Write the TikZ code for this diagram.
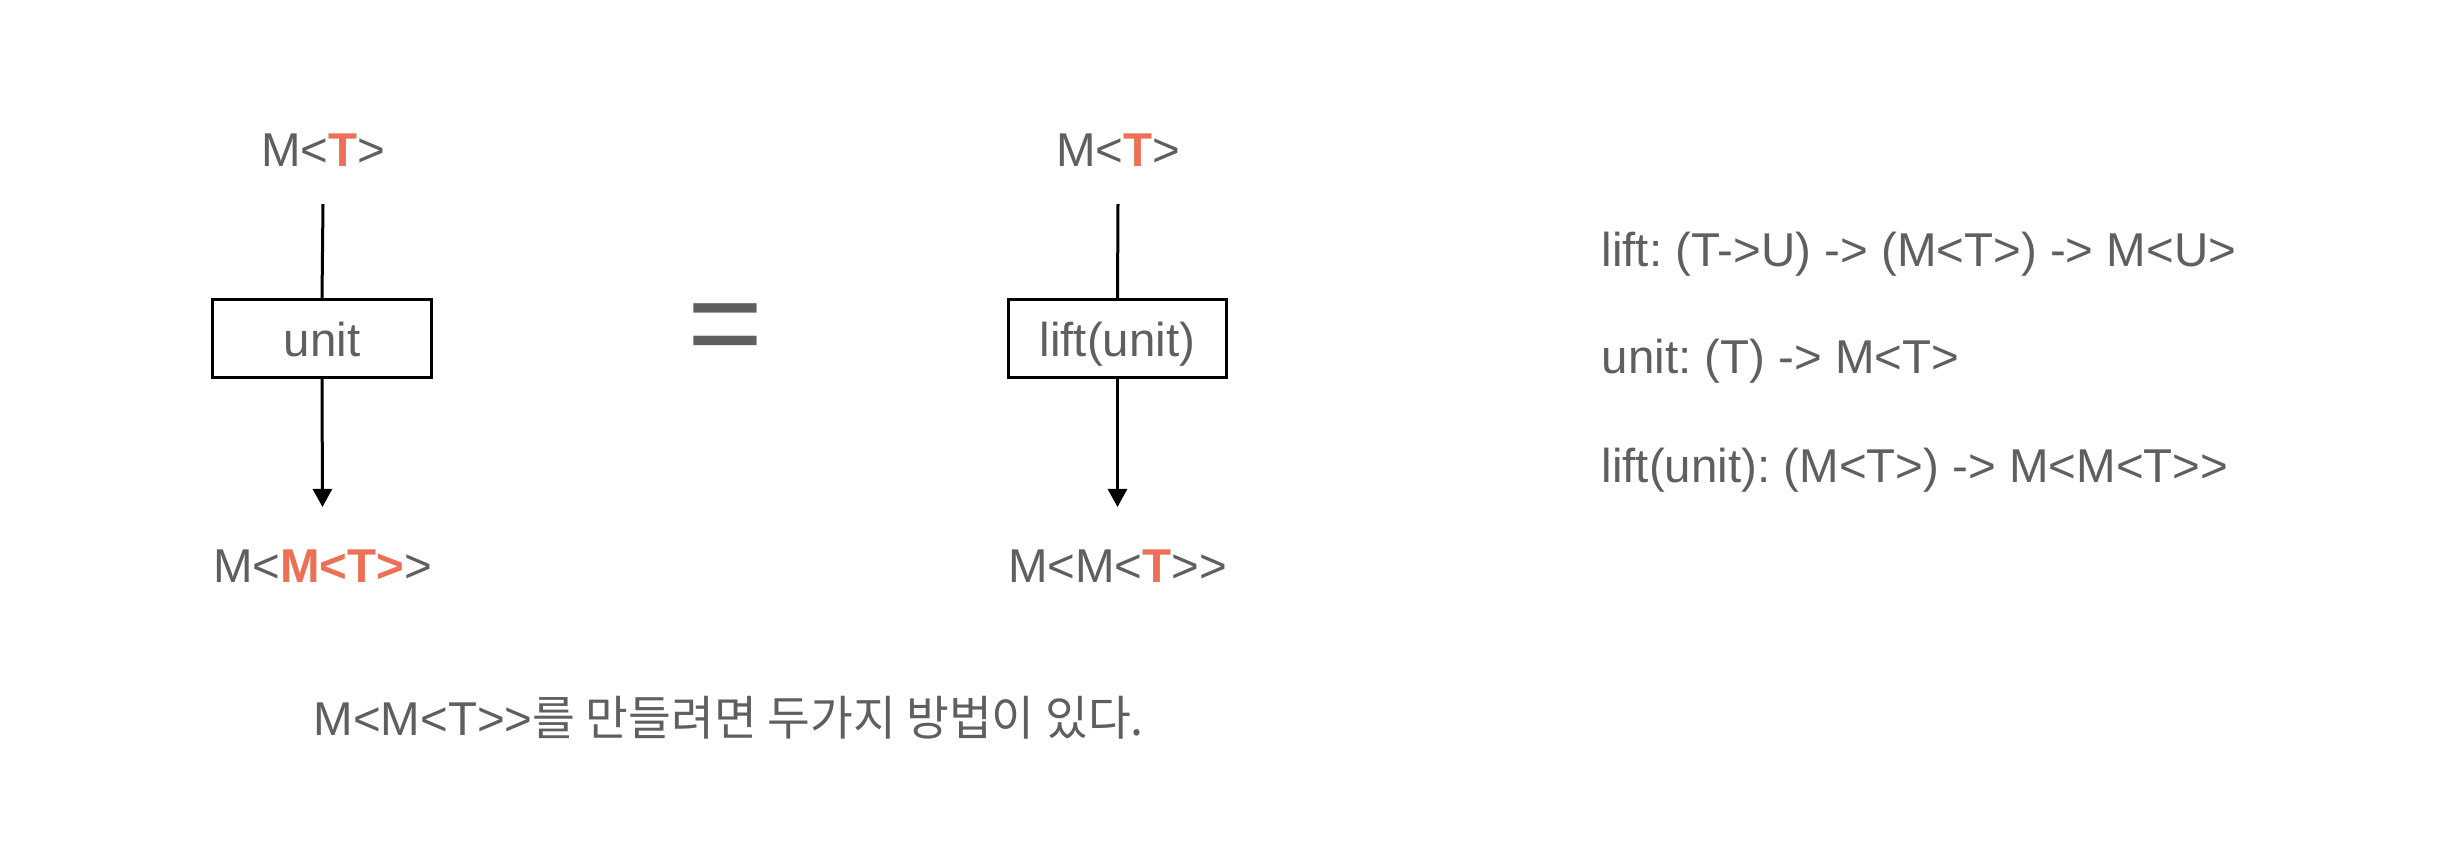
\documentclass[tikz,border=0pt]{standalone}
\usepackage{fontspec}
\setmainfont{Liberation Sans}[Ligatures=TeXOff]
\newfontfamily\krfont{Noto Sans CJK KR}[Ligatures=TeXOff]
\usetikzlibrary{arrows.meta}
\definecolor{txtgray}{HTML}{5F5F5F}
\definecolor{accent}{HTML}{EC6F56}
\frenchspacing
\begin{document}
\begin{tikzpicture}[x=0.01cm,y=-0.01cm,
  font=\fontsize{13.5pt}{16pt}\selectfont,
  lbl/.style={text=txtgray, inner sep=0pt, anchor=base},
  fnbox/.style={draw=black, line width=0.03cm, minimum width=2.18cm, minimum height=0.77cm,
    inner sep=0pt, text=txtgray, text height=0.36cm, text depth=0pt},
  conn/.style={draw=black, line width=0.03cm},
  arr/.style={conn, -{Triangle[length=0.18cm,width=0.19cm]}}]
\useasboundingbox (0,0) rectangle (2444,842);
% left column
\node[lbl] (top1) at (323,166) {M<\textbf{\textcolor{accent}{T}}>};
\node[fnbox] (box1) at (322,338.5) {unit};
\node[lbl] (bot1) at (322.5,582) {M<\textbf{\textcolor{accent}{M<T>}}>};
\draw[conn] ([yshift=-0.38cm]top1.base) -- (box1.north);
\draw[arr] (box1.south) -- ([yshift=0.75cm]bot1.base);
% equals
\node[text=txtgray, font=\fontsize{37pt}{40pt}\selectfont, inner sep=0pt] (eq) at (725.5,336) {=};
% middle column
\node[lbl] (top2) at (1118,166) {M<\textbf{\textcolor{accent}{T}}>};
\node[fnbox] (box2) at (1117.5,338.5) {lift(unit)};
\node[lbl] (bot2) at (1117.5,582) {M<M<\textbf{\textcolor{accent}{T}}>>};
\draw[conn] ([yshift=-0.38cm]top2.base) -- (box2.north);
\draw[arr] (box2.south) -- ([yshift=0.75cm]bot2.base);
% definitions
\node[lbl, anchor=base west] (d1) at (1601,266) {lift: (T->U) -> (M<T>) -> M<U>};
\node[lbl, anchor=base west] (d2) at (1601,373) {unit: (T) -> M<T>};
\node[lbl, anchor=base west] (d3) at (1601,482) {lift(unit): (M<T>) -> M<M<T>>};
% caption
\node[lbl, anchor=base west] (cap) at (313,735) {M<M<T>>\scalebox{0.98}[1]{\krfont 를 만들려면 두가지 방법이 있다.}};
\end{tikzpicture}
\end{document}
